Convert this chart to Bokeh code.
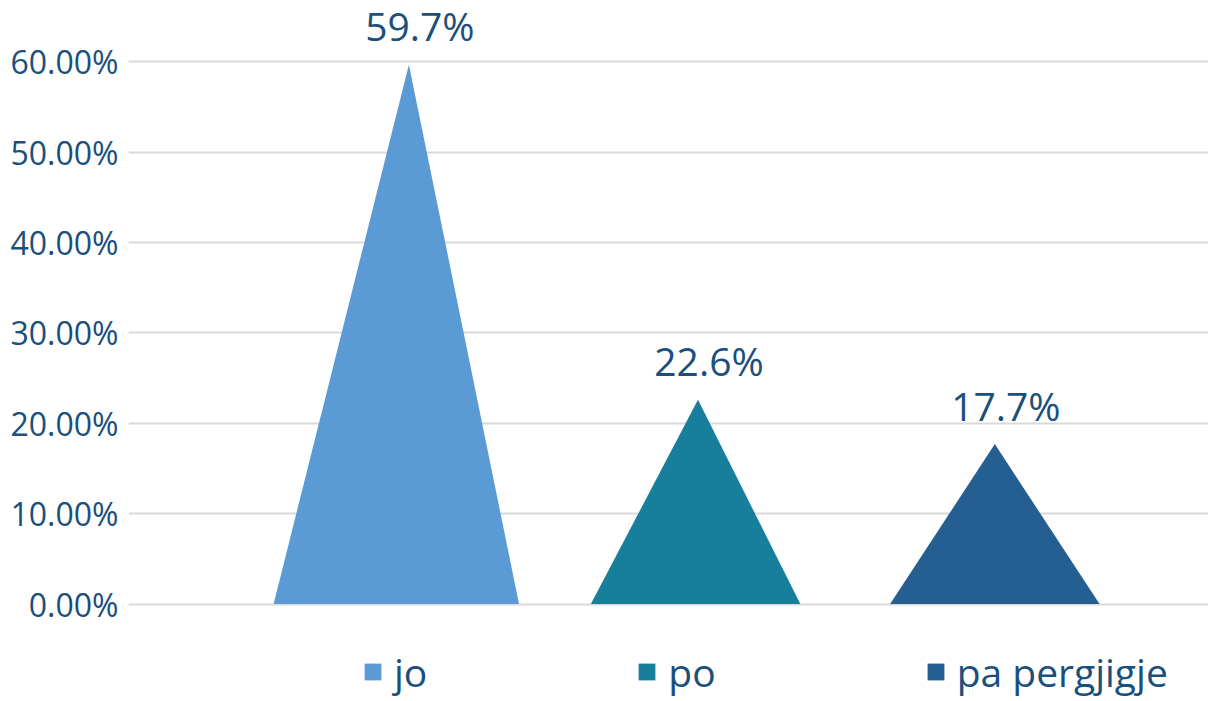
from bokeh.plotting import figure
from bokeh.models import Legend, LegendItem, PrintfTickFormatter, FixedTicker, ColumnDataSource
from bokeh.embed import file_html
from bokeh.resources import INLINE
from bokeh.core.properties import value

# ---- data ----
categories = ["jo", "po", "pa pergjigje"]
percentages = [59.7, 22.6, 17.7]
label_texts = ["59.7%", "22.6%", "17.7%"]
y_ticks = [0, 10, 20, 30, 40, 50, 60]

# ---- styles ----
colors = ["#5B9BD5", "#177E9B", "#255E91"]
half_widths = [0.41, 0.35, 0.35]
tip_shift = [0.042, 0.008, 0.0]
text_color = "#1B4F7C"
font = "Open Sans"

p = figure(width=1208, height=700, output_backend="svg", toolbar_location=None,
           x_range=(-0.895, 2.714), y_range=(-10.68, 66.8), x_axis_type=None,
           min_border_left=128, min_border_right=0, min_border_top=0, min_border_bottom=0)
p.outline_line_color = None
p.background_fill_color = "white"
p.border_fill_color = "white"

p.xgrid.visible = False
p.ygrid.grid_line_color = "#D9D9D9"
p.ygrid.grid_line_width = 2
p.yaxis.ticker = FixedTicker(ticks=y_ticks)
p.yaxis.formatter = PrintfTickFormatter(format="%.2f%%")
p.yaxis.axis_line_color = None
p.yaxis.major_tick_line_color = None
p.yaxis.minor_tick_line_color = None
p.yaxis.major_label_text_font = font
p.yaxis.major_label_text_font_size = "32px"
p.yaxis.major_label_text_color = text_color
p.yaxis.major_label_standoff = 4

items = []
for i, (cat, val) in enumerate(zip(categories, percentages)):
    xs = [i - half_widths[i], i + tip_shift[i], i + half_widths[i]]
    ys = [0, val, 0]
    r = p.patch(xs, ys, fill_color=colors[i], line_color=None)
    items.append(LegendItem(label=cat, renderers=[r]))

src = ColumnDataSource(dict(x=[i + tip_shift[i] for i in range(len(categories))],
                            y=percentages, t=label_texts))
p.text(x="x", y="y", text="t", source=src, text_align="center", text_baseline="middle",
       y_offset=-39, x_offset=11, text_font=value(font), text_font_size="39px",
       text_color=text_color)

legend = Legend(items=items, orientation="horizontal", location=(234, 2),
                label_text_font=font, label_text_font_size="39px", label_text_color=text_color,
                glyph_width=21, glyph_height=21, label_standoff=11, spacing=209,
                padding=0, margin=0, border_line_color=None, background_fill_alpha=0)
p.add_layout(legend, "center")

open("out.html", "w").write(file_html(p, INLINE))
